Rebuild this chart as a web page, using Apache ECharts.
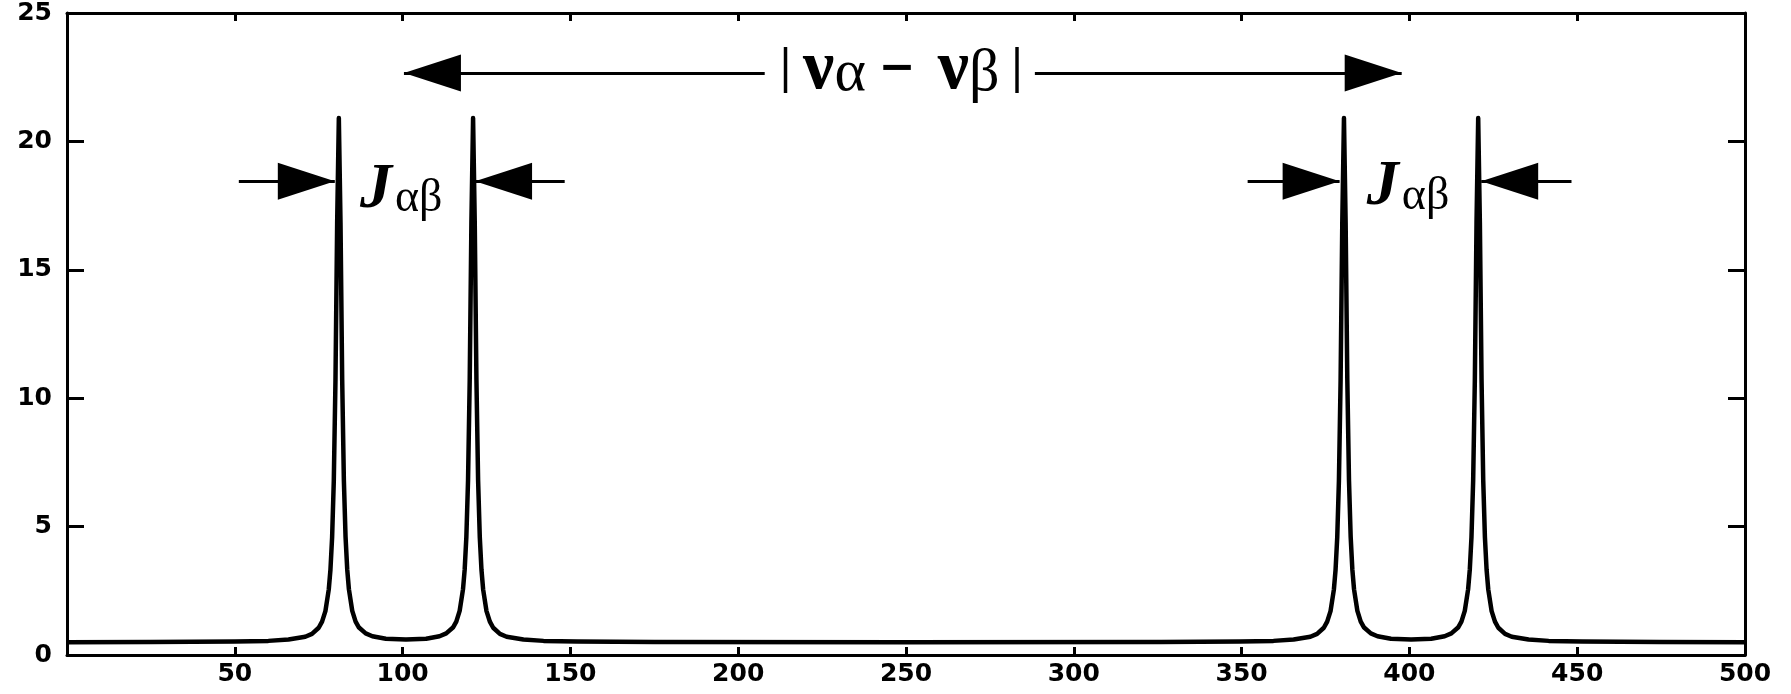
<!DOCTYPE html>
<html>
<head>
<meta charset="utf-8">
<script src="https://cdn.jsdelivr.net/npm/echarts@6/dist/echarts.min.js"></script>
<style>
html,body{margin:0;padding:0;background:#fff;}
#main{width:1791px;height:694px;}
</style>
</head>
<body>
<div id="main"></div>
<script>
// ---- data ----
const freq = [0,25,50,60,66,71,73,75,76,77,78,78.5,79,79.5,80,80.5,81,81.5,82,82.5,83,83.5,84,85,86,87,89,91,95,101,107,111,113,115,116,117,118,118.5,119,119.5,120,120.5,121,121.5,122,122.5,123,123.5,124,125,126,127,129,131,136,142,152,175,250,326,349.5,359.5,365.5,370.5,372.5,374.5,375.5,376.5,377.5,378,378.5,379,379.5,380,380.5,381,381.5,382,382.5,383,383.5,384.5,385.5,386.5,388.5,390.5,394.5,400.5,406.5,410.5,412.5,414.5,415.5,416.5,417.5,418,418.5,419,419.5,420,420.5,421,421.5,422,422.5,423,423.5,424.5,425.5,426.5,428.5,430.5,435.5,441.5,451.5,474.5,500];
const intensity = [0.50,0.51,0.53,0.55,0.60,0.71,0.82,1.06,1.30,1.71,2.55,3.32,4.59,6.79,10.71,16.83,20.91,16.83,10.71,6.80,4.60,3.33,2.56,1.72,1.30,1.07,0.84,0.73,0.63,0.60,0.63,0.73,0.84,1.07,1.30,1.72,2.56,3.33,4.60,6.80,10.71,16.83,20.91,16.83,10.71,6.79,4.59,3.32,2.55,1.71,1.30,1.06,0.82,0.71,0.60,0.55,0.53,0.51,0.50,0.51,0.53,0.55,0.60,0.71,0.82,1.06,1.30,1.71,2.55,3.32,4.59,6.79,10.71,16.83,20.91,16.83,10.71,6.80,4.60,3.33,2.56,1.72,1.30,1.07,0.84,0.73,0.63,0.60,0.63,0.73,0.84,1.07,1.30,1.72,2.56,3.33,4.60,6.80,10.71,16.83,20.91,16.83,10.71,6.79,4.59,3.32,2.55,1.71,1.30,1.06,0.82,0.71,0.60,0.55,0.53,0.51,0.50];
const xTicks = [0,50,100,150,200,250,300,350,400,450,500];
const yTicks = [0,5,10,15,20,25];

// annotation anchors in data units: [x1, x2, y]
const shafts = [[100.4,207.9,22.66],[288.4,397.7,22.66],[51.2,79.8,18.45],[121.6,148.3,18.45],[351.8,379.2,18.45],[421.4,448.3,18.45]];
// arrow tips: [x, y, direction]
const heads = [[100.4,22.66,'left'],[397.7,22.66,'right'],[79.8,18.45,'right'],[121.6,18.45,'left'],[379.2,18.45,'right'],[421.4,18.45,'left']];
const diffLabelPos = [248.6,22.8];
const couplingLabelPos = [[99.6,18.1],[399.6,18.2]];
const diffLabelText = '{bar||}{nu|ν}{sub|α}{minus|−}{nu|ν}{sub|β}{bar2||}';
const couplingText = '{j|J}{ab|αβ}';

const chart = echarts.init(document.getElementById('main'), null, {renderer:'canvas'});
const labelFont = {fontFamily:'DejaVu Sans', fontWeight:'bold', fontSize:25, color:'#000'};

const axisCommon = {
  type:'value', splitLine:{show:false},
  axisLine:{show:true, onZero:false, lineStyle:{color:'#000', width:3}},
};

const rightPath = 'path://M0,0L60,18L0,36Z';
const leftPath = 'path://M60,0L0,18L60,36Z';

const markPointData = heads.map(h => ({
  coord:[h[0], h[1]],
  symbol: h[2]==='right' ? rightPath : leftPath,
  symbolSize:[57,37],
  symbolOffset:[h[2]==='right' ? '-50%' : '50%', 0],
  itemStyle:{color:'#000'},
  label:{show:false}
}));
markPointData.push({
  coord: diffLabelPos, symbol:'circle', symbolSize:0,
  label:{show:true, position:'inside', formatter: diffLabelText,
    rich:{
      bar:{fontFamily:'Liberation Serif', fontSize:50, color:'#000', fontWeight:'bold', padding:[0,12,0,0]},
      bar2:{fontFamily:'Liberation Serif', fontSize:50, color:'#000', fontWeight:'bold', padding:[0,0,0,12]},
      nu:{fontFamily:'Liberation Serif', fontSize:70, fontWeight:'bold', color:'#000'},
      sub:{fontFamily:'Liberation Serif', fontSize:60, color:'#000', verticalAlign:'bottom', lineHeight:64},
      minus:{fontFamily:'DejaVu Sans', fontSize:44, fontWeight:'bold', color:'#000', padding:[0,22,0,13]}
    }}
});
couplingLabelPos.forEach(p => markPointData.push({
  coord:p, symbol:'circle', symbolSize:0,
  label:{show:true, position:'inside', formatter: couplingText,
    rich:{
      j:{fontFamily:'Liberation Serif', fontStyle:'italic', fontWeight:'bold', fontSize:64, color:'#000', verticalAlign:'bottom', lineHeight:64},
      ab:{fontFamily:'Liberation Serif', fontSize:46, color:'#000', verticalAlign:'bottom', lineHeight:64, padding:[0,0,0,3]}
    }}
}));

chart.setOption({
  animation:false,
  backgroundColor:'#fff',
  grid:{left:67, right:46, top:13, bottom:39, containLabel:false},
  xAxis:[
    Object.assign({}, axisCommon, {position:'bottom', min:xTicks[0], max:xTicks[xTicks.length-1], interval:50,
      axisTick:{show:true, inside:true, length:8, lineStyle:{color:'#000', width:3}},
      axisLabel:Object.assign({show:true, margin:7, formatter:v => v===0 ? '' : String(v)}, labelFont)}),
    Object.assign({}, axisCommon, {position:'top', min:xTicks[0], max:xTicks[xTicks.length-1], interval:50,
      axisTick:{show:true, inside:true, length:8, lineStyle:{color:'#000', width:3}},
      axisLabel:{show:false}})
  ],
  yAxis:[
    Object.assign({}, axisCommon, {position:'left', min:yTicks[0], max:yTicks[yTicks.length-1], interval:5,
      axisTick:{show:true, inside:true, length:17, lineStyle:{color:'#000', width:3}},
      axisLabel:Object.assign({show:true, margin:15}, labelFont)}),
    Object.assign({}, axisCommon, {position:'right', min:yTicks[0], max:yTicks[yTicks.length-1], interval:5,
      axisTick:{show:true, inside:true, length:17, lineStyle:{color:'#000', width:3}},
      axisLabel:{show:false}})
  ],
  series:[{
    type:'line', xAxisIndex:0, yAxisIndex:0,
    data: freq.map((f,i) => [f, intensity[i]]),
    showSymbol:false, symbol:'none', smooth:false,
    lineStyle:{color:'#000', width:4.5, join:'round'},
    silent:true,
    markLine:{
      silent:true, symbol:['none','none'], animation:false,
      lineStyle:{color:'#000', width:3, type:'solid'},
      label:{show:false},
      data: shafts.map(s => [{coord:[s[0], s[2]]},{coord:[s[1], s[2]]}])
    },
    markPoint:{ silent:true, animation:false, data: markPointData }
  }]
});
</script>
</body>
</html>
